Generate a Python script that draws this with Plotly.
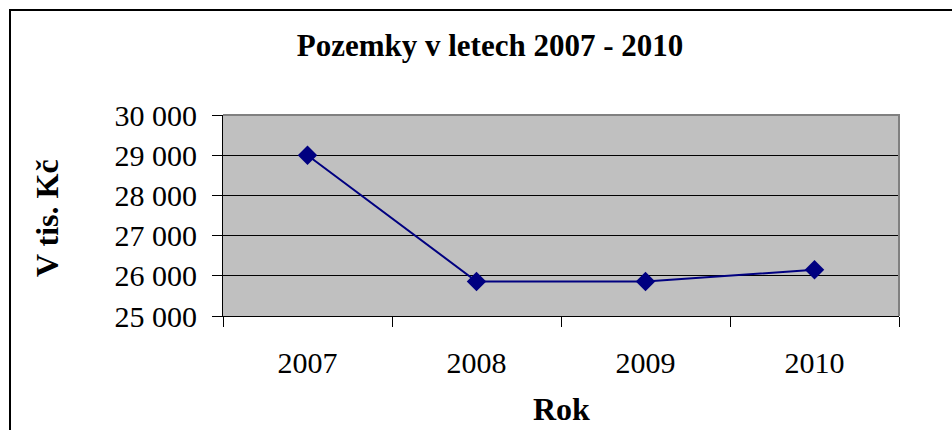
import plotly.graph_objects as go

years = ["2007", "2008", "2009", "2010"]
values = [29000, 25860, 25860, 26150]
y_ticks = [25000, 26000, 27000, 28000, 29000, 30000]

title_text = "Pozemky v letech 2007 - 2010"
y_title = "V tis. Kč"
x_title = "Rok"

W, H = 952, 430
L, R, T, B = 223, 899, 115, 316
pw, ph = R - L, B - T

def px(x):
    return (x - L) / pw

def py(y):
    return (B - y) / ph

FONT = "Liberation Serif, Times New Roman, serif"

fig = go.Figure()
fig.add_trace(go.Scatter(
    x=years, y=values, mode="lines+markers",
    line=dict(color="#000080", width=2),
    marker=dict(symbol="diamond", size=15, color="#000080"),
    showlegend=False,
))

fig.update_layout(
    width=W, height=H,
    margin=dict(l=L, r=W - R, t=T, b=H - B, pad=0),
    paper_bgcolor="white",
    plot_bgcolor="#C0C0C0",
    separators=", ",
    font=dict(family=FONT, color="black"),
    title=dict(text="<b>" + title_text + "</b>", x=490 / W, xref="container", xanchor="center",
               y=1 - 45 / H, yref="container", yanchor="middle",
               font=dict(family=FONT, size=31, color="black")),
    xaxis=dict(
        type="category", range=[-0.5, len(years) - 0.5],
        tickson="boundaries", ticks="outside", ticklen=10,
        tickcolor="black", tickwidth=1,
        showline=True, linecolor="black", linewidth=1,
        showgrid=False, tickfont=dict(family=FONT, size=30, color="black"),
        ticklabelstandoff=20,
    ),
    yaxis=dict(
        range=[25000, 30000], tickvals=y_ticks, tickformat=",d",
        ticks="outside", ticklen=10, tickcolor="black", tickwidth=1,
        showline=True, linecolor="black", linewidth=1,
        showgrid=True, gridcolor="black", gridwidth=1,
        zeroline=False, tickfont=dict(family=FONT, size=30, color="black"),
        ticklabelstandoff=9,
    ),
    annotations=[
        dict(text="<b>" + y_title + "</b>", x=px(47), y=py(218), xref="paper", yref="paper",
             textangle=-90, showarrow=False, xanchor="center", yanchor="middle",
             font=dict(family=FONT, size=32, color="black")),
        dict(text="<b>" + x_title + "</b>", x=px(561), y=py(409), xref="paper", yref="paper",
             showarrow=False, xanchor="center", yanchor="middle",
             font=dict(family=FONT, size=32, color="black")),
    ],
    shapes=[
        dict(type="path", xref="paper", yref="paper",
             path=f"M {px(10)},{py(440)} L {px(10)},{py(10)} L {px(960)},{py(10)}",
             line=dict(color="black", width=2)),
        dict(type="path", xref="paper", yref="paper",
             path="M 0,1 L 1,1 L 1,0",
             line=dict(color="#808080", width=2)),
    ],
)

fig.write_html("out.html", config={"displayModeBar": False},
               post_script="document.body.style.margin='0';")
